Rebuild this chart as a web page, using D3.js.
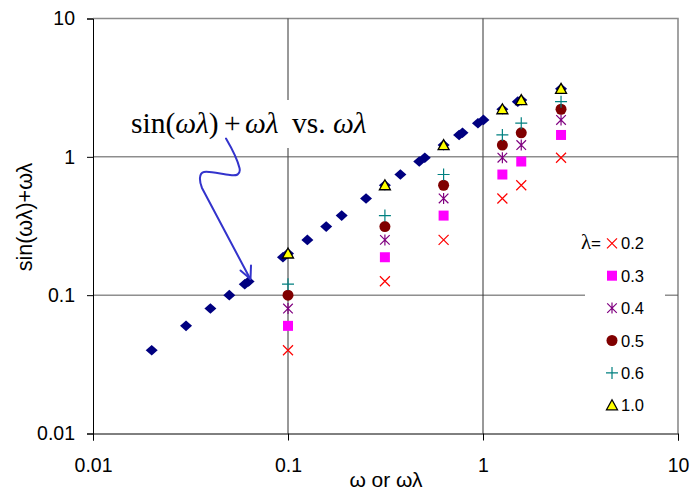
<!DOCTYPE html>
<html>
<head>
<meta charset="utf-8">
<script src="https://cdn.jsdelivr.net/npm/d3@7"></script>
<style>
  body { margin: 0; background: #fff; }
  svg { display: block; }
</style>
</head>
<body>
<svg id="chart" width="690" height="495"></svg>
<script>
// omega values of the lambda columns
var omega = [0.1, 0.314, 0.628, 1.257, 1.571, 2.513];
var lambdaNames = ["0.2", "0.3", "0.4", "0.5", "0.6", "1.0"];
// sin(omega*lambda)+omega*lambda, one array for each lambda
var y02 = [0.04, 0.126, 0.251, 0.500, 0.623, 0.985];
var y03 = [0.06, 0.188, 0.376, 0.745, 0.925, 1.439];
var y04 = [0.08, 0.251, 0.500, 0.985, 1.216, 1.849];
var y05 = [0.10, 0.313, 0.623, 1.216, 1.492, 2.208];
var y06 = [0.12, 0.376, 0.745, 1.439, 1.751, 2.506];
var y10 = [0.20, 0.623, 1.216, 2.208, 2.571, 3.101];
// blue diamonds: sin(wl)+wl against wl
var wl = [0.02, 0.03, 0.04, 0.05, 0.06, 0.0628, 0.0942, 0.1, 0.1257, 0.157, 0.1885, 0.2513,
          0.314, 0.377, 0.471, 0.503, 0.628, 0.754, 0.785, 0.942, 1.005, 1.257, 1.508, 1.571, 2.513];
var sinwl = [0.04, 0.06, 0.08, 0.10, 0.12, 0.1256, 0.188, 0.200, 0.251, 0.313, 0.376, 0.500,
             0.623, 0.745, 0.925, 0.985, 1.216, 1.439, 1.492, 1.751, 1.849, 2.208, 2.506, 2.571, 3.101];
var tickVals = [0.01, 0.1, 1, 10];
var tickText = ["0.01", "0.1", "1", "10"];

var svg = d3.select("#chart");
var x = d3.scaleLog().domain([0.01, 10]).range([93, 678]);
var y = d3.scaleLog().domain([0.01, 10]).range([433.5, 18.5]);

//marker shapes
function markerPath(type) {
    switch (type) {
        case "diamond": return "M0,-5.3L6,0L0,5.3L-6,0Z";
        case "times": return "M-5,-5L5,5M-5,5L5,-5";
        case "square": return "M-5,-5H5V5H-5Z";
        case "star": return "M-4.8,-4.8L4.8,4.8M-4.8,4.8L4.8,-4.8M0,-5.5V5.5";
        case "circle": return d3.symbol(d3.symbolCircle, Math.PI * 5.5 * 5.5)();
        case "plus": return "M-6,0H6M0,-6V6";
        case "triangle": return "M0,-5.5L5.5,4.5L-5.5,4.5Z";
    }
}
var styles = [
    {shape: "times", fill: "none", stroke: "#FF0000", sw: 1.2},
    {shape: "square", fill: "#FF00FF", stroke: "none", sw: 0},
    {shape: "star", fill: "none", stroke: "#800080", sw: 1.2},
    {shape: "circle", fill: "#800000", stroke: "none", sw: 0},
    {shape: "plus", fill: "none", stroke: "#008080", sw: 1.2},
    {shape: "triangle", fill: "#FFFF00", stroke: "#000000", sw: 1.3}
];
var seriesY = [y02, y03, y04, y05, y06, y10];

// frame: grey top/right border
svg.append("path")
    .attr("d", "M93," + y(10) + "H" + x(10) + "V" + y(0.01))
    .attr("fill", "none").attr("stroke", "#8c8c8c").attr("stroke-width", 1.6);

// gridlines
var grid = svg.append("g");
[0.1, 1].forEach(function (v) {
    grid.append("line").attr("x1", x(v)).attr("x2", x(v)).attr("y1", y(10)).attr("y2", y(0.01))
        .attr("stroke", "#333").attr("stroke-width", 1);
    grid.append("line").attr("x1", x(0.01)).attr("x2", x(10)).attr("y1", y(v)).attr("y2", y(v))
        .attr("stroke", "#555").attr("stroke-width", 1);
});

// axes
var fmt = function (d) { return tickText[tickVals.indexOf(d)]; };
var gy = svg.append("g").attr("transform", "translate(" + x(0.01) + ",0)")
    .call(d3.axisLeft(y).tickValues(tickVals).tickFormat(fmt).tickSize(6).tickPadding(12));
var gx = svg.append("g").attr("transform", "translate(0," + y(0.01) + ")")
    .call(d3.axisBottom(x).tickValues(tickVals).tickFormat(fmt).tickSize(7).tickPadding(18));
[gx, gy].forEach(function (g) {
    g.selectAll("text").attr("font-family", "'Liberation Sans', Arial, sans-serif")
        .attr("font-size", 19.5).attr("fill", "#000");
    g.select(".domain").attr("stroke", "#000");
    g.selectAll(".tick line").attr("stroke", "#000");
});

// axis titles
svg.append("text")
    .attr("transform", "translate(32,217) rotate(-90)")
    .attr("text-anchor", "middle")
    .attr("font-family", "'Liberation Sans', Arial, sans-serif")
    .attr("font-size", 21.5)
    .text("sin(ωλ)+ωλ");
svg.append("text")
    .attr("x", 386).attr("y", 487)
    .attr("text-anchor", "middle")
    .attr("font-family", "'Liberation Sans', Arial, sans-serif")
    .attr("font-size", 21)
    .text("ω or ωλ");

// diamonds
svg.append("g").selectAll("path")
    .data(wl.map(function (d, i) { return {x: d, y: sinwl[i]}; }))
    .enter().append("path")
    .attr("transform", function (d) { return "translate(" + x(d.x) + "," + y(d.y) + ")"; })
    .attr("d", markerPath("diamond"))
    .attr("fill", "#000080");

// lambda series
seriesY.forEach(function (ys, k) {
    var s = styles[k];
    svg.append("g").selectAll("path")
        .data(omega.map(function (d, i) { return {x: d, y: ys[i]}; }))
        .enter().append("path")
        .attr("transform", function (d) { return "translate(" + x(d.x) + "," + y(d.y) + ")"; })
        .attr("d", markerPath(s.shape))
        .attr("fill", s.fill)
        .attr("stroke", s.stroke)
        .attr("stroke-width", s.sw);
});

// legend
var leg = svg.append("g");
leg.append("rect").attr("x", 585).attr("y", 226).attr("width", 80).attr("height", 195).attr("fill", "#fff");
var lt = leg.append("text").attr("x", 601).attr("y", 249).attr("text-anchor", "end").attr("font-size", 17);
lt.append("tspan").attr("font-family", "'Liberation Serif', serif").attr("font-size", 21).text("λ");
lt.append("tspan").attr("font-family", "'Liberation Sans', Arial, sans-serif").text("=");
lambdaNames.forEach(function (name, k) {
    var cy = 243.3 + k * 32.4;
    var s = styles[k];
    leg.append("path").attr("transform", "translate(612," + cy + ")")
        .attr("d", markerPath(s.shape)).attr("fill", s.fill)
        .attr("stroke", s.stroke).attr("stroke-width", s.sw);
    leg.append("text").attr("x", 621).attr("y", cy + 6)
        .attr("font-family", "'Liberation Sans', Arial, sans-serif")
        .attr("font-size", 16.5).text(name);
});

// annotation with white background
var ann = svg.append("g");
ann.append("rect").attr("x", 125).attr("y", 100).attr("width", 250).attr("height", 48).attr("fill", "#fff");
var at = ann.append("text").attr("y", 132.7)
    .attr("font-family", "'Liberation Serif', 'Times New Roman', serif").attr("font-size", 29.5);
at.append("tspan").attr("x", 131).text("sin(");
at.append("tspan").attr("font-style", "italic").text("ωλ");
at.append("tspan").text(")");
at.append("tspan").attr("x", 224).text("+");
at.append("tspan").attr("x", 245).attr("font-style", "italic").text("ωλ");
at.append("tspan").attr("x", 292).text("vs.");
at.append("tspan").attr("x", 333).attr("font-style", "italic").text("ωλ");

// arrow
var arrowPath = "M226,138.5 C231,147 237,158 239.5,168 C241,175 236,176 230,175 " +
    "C221,174 210,171 204,172 C199,173 199,181 202,188 L250,278.5";
ann.append("path").attr("d", arrowPath).attr("fill", "none")
    .attr("stroke", "#3333CC").attr("stroke-width", 2).attr("stroke-linecap", "round");
ann.append("path").attr("d", "M240.5,270.5L250.5,279L251,265.5").attr("fill", "none")
    .attr("stroke", "#3333CC").attr("stroke-width", 2).attr("stroke-linecap", "round")
    .attr("stroke-linejoin", "round");
</script>
</body>
</html>
